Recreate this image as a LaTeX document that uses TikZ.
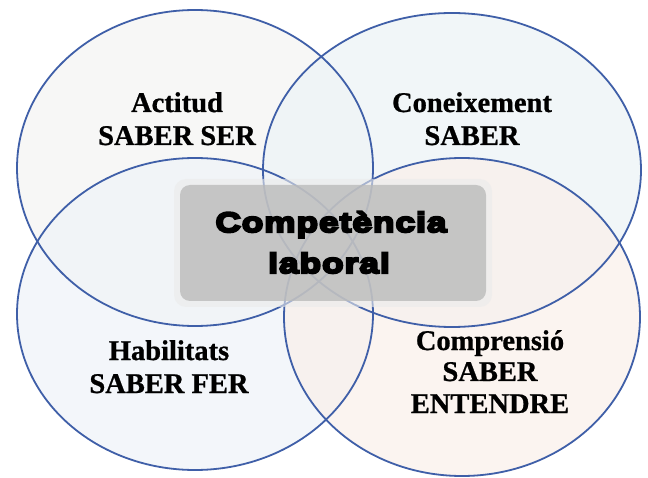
\documentclass[tikz,border=0pt]{standalone}
\usepackage{fontspec}
\setmainfont{Liberation Serif}[BoldFeatures={FakeBold=0.8}]
\newfontfamily\heavy{Liberation Sans Bold}[FakeBold=8,FakeStretch=1.25,LetterSpace=4]
\definecolor{ringblue}{HTML}{3F5FA8}
\definecolor{tintA}{HTML}{F6F6F4}
\definecolor{tintB}{HTML}{EEF4F7}
\definecolor{tintC}{HTML}{EFF3F8}
\definecolor{tintD}{HTML}{FAF0EA}
\tikzset{
  ring/.style={draw=ringblue, line width=1.8pt},
  lbl/.style={align=center, font=\fontsize{28.5}{33}\selectfont\bfseries, inner sep=0pt},
  core/.style={align=center, font=\fontsize{28}{41}\selectfont\heavy, inner sep=0pt}
}
\begin{document}
\begin{tikzpicture}[x=1pt,y=-1pt]
\useasboundingbox (0,0) rectangle (648,478);
\fill[white] (0,0) rectangle (648,478);
% fills
\fill[tintA, opacity=0.8] (195,168) ellipse [x radius=178, y radius=158];
\fill[tintB, opacity=0.8] (452,170) ellipse [x radius=189, y radius=157];
\fill[tintC, opacity=0.7] (195,314) ellipse [x radius=178, y radius=156];
\fill[tintD, opacity=0.7] (462,317) ellipse [x radius=178, y radius=159];
% rings
\draw[ring] (195,168) ellipse [x radius=178, y radius=158];
\draw[ring] (452,170) ellipse [x radius=189, y radius=157];
\draw[ring] (195,314) ellipse [x radius=178, y radius=156];
\draw[ring] (462,317) ellipse [x radius=178, y radius=159];
% central box
\fill[black!8, opacity=0.6, rounded corners=12pt] (174,179) rectangle (492,307);
\node[fill=black!27, fill opacity=0.78, rounded corners=10pt, minimum width=306pt, minimum height=116pt, inner sep=0pt] (box) at (333,243) {};
\node[core, anchor=base] (comp) at (331,232) {Competència};
\node[core, anchor=base] (lab) at (329,273) {laboral};
% labels
\node[lbl, anchor=base] (a1) at (177,112) {Actitud};
\node[lbl, anchor=base] (a2) at (177,145) {SABER SER};
\node[lbl, anchor=base] (b1) at (472,112) {Coneixement};
\node[lbl, anchor=base] (b2) at (472,145) {SABER};
\node[lbl, anchor=base] (c1) at (169,360) {Habilitats};
\node[lbl, anchor=base] (c2) at (169,393) {SABER FER};
\node[lbl, anchor=base] (d1) at (490,350) {Comprensió};
\node[lbl, anchor=base] (d2) at (490,381) {SABER};
\node[lbl, anchor=base] (d3) at (490,413) {ENTENDRE};
\end{tikzpicture}
\end{document}
